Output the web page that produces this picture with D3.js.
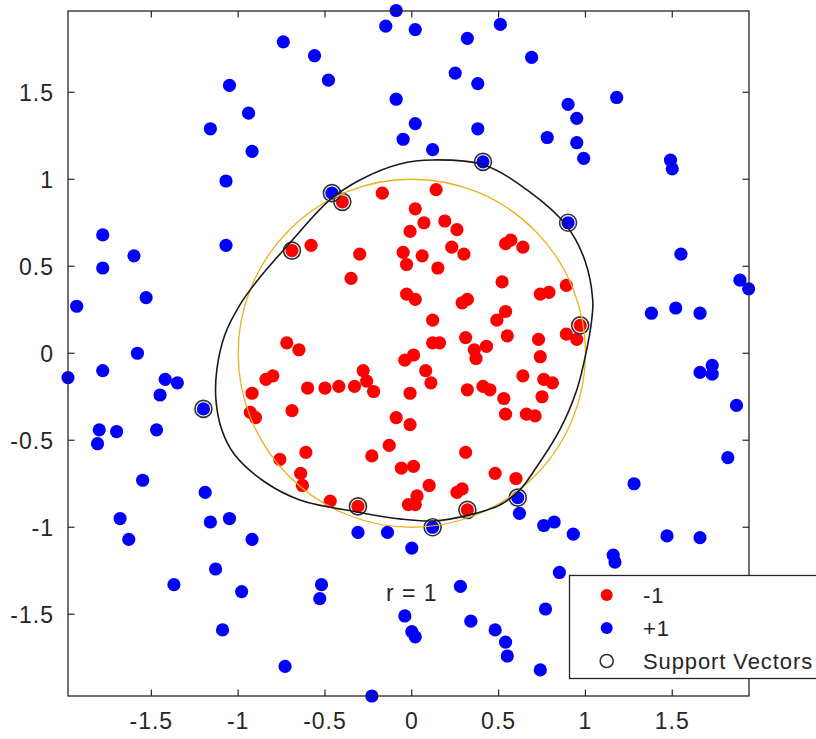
<!DOCTYPE html>
<html><head><meta charset="utf-8">
<script src="https://cdn.jsdelivr.net/npm/d3@7/dist/d3.min.js"></script>
<style>
html,body{margin:0;padding:0;background:#fff;}
svg{display:block;}
text{font-family:"Liberation Sans",Arial,Helvetica,sans-serif;fill:#262626;}
</style></head>
<body>
<script>
// ---- data ----
const negX = [-0.17,0.14,-0.40,0.02,0.07,0.19,0.26,-0.01,-0.58,-0.69,-0.30,-0.05,-0.03,0.06,0.15,0.23,0.30,0.54,0.57,0.64,-0.35,0.52,-0.03,0.02,0.29,0.32,0.54,0.49,0.12,0.55,0.31,0.12,0.16,0.43,0.36,0.37,-0.72,-0.65,-0.04,0.01,0.64,0.08,0.11,-0.28,-0.60,-0.50,-0.42,-0.33,-0.26,-0.22,-0.01,0.32,0.41,0.45,0.53,-0.69,0.54,0.66,-0.09,-0.01,-0.13,-0.61,-0.23,0.31,-0.06,0.01,-0.64,-0.63,-0.47,-0.31,0.10,0.03,-0.02,0.02,0.26,0.29,0.32,0.48,0.60,0.89,0.74,0.79,0.97,0.89,0.95,0.73,0.74,0.76,0.81,0.75,0.71,-0.80,-0.84,-0.92,-0.93,-0.90,-0.76];
const negY = [0.92,0.94,0.87,0.83,0.75,0.76,0.71,0.70,0.62,0.59,0.57,0.58,0.51,0.56,0.49,0.61,0.57,0.63,0.65,0.61,0.43,0.41,0.34,0.31,0.29,0.31,0.24,0.19,0.19,0.10,0.09,0.06,0.06,0.04,0.02,-0.03,0.06,0.02,-0.04,-0.01,-0.13,-0.10,-0.17,-0.10,-0.20,-0.20,-0.19,-0.19,-0.16,-0.22,-0.23,-0.21,-0.19,-0.21,-0.26,-0.33,-0.35,-0.35,-0.37,-0.41,-0.53,-0.57,-0.59,-0.57,-0.66,-0.65,-0.69,-0.76,-0.85,-0.88,-0.76,-0.82,-0.87,-0.87,-0.80,-0.78,-0.90,-0.69,-0.72,0.39,0.34,0.35,0.16,0.11,0.08,0.08,-0.02,-0.15,-0.17,-0.25,-0.36,-0.13,-0.15,-0.23,-0.34,-0.37,-0.61];
const posX = [-0.09,-0.15,0.02,0.51,0.32,-0.74,-0.56,0.69,-0.48,0.25,0.38,-1.05,-0.09,1.18,0.90,-0.94,0.95,0.02,-1.16,-0.05,0.38,0.78,0.95,0.12,-0.92,0.99,1.49,1.50,-1.07,0.41,-0.46,0.90,-1.78,-1.07,1.55,-1.60,-1.78,1.89,1.94,-1.53,-1.93,1.52,1.38,1.66,-1.58,-1.78,-1.98,-1.42,-1.35,-1.45,-1.20,1.66,1.73,1.73,1.87,-1.80,-1.70,-1.47,-1.81,1.82,-1.55,-1.19,1.28,-1.68,-1.16,-1.05,-1.63,-0.92,0.61,0.62,0.76,0.82,0.93,1.47,1.66,-0.31,-0.14,0.00,0.12,-1.13,-1.37,-0.98,1.16,1.17,0.85,-0.52,-0.53,0.28,0.77,-1.09,-0.04,0.00,0.02,0.34,0.48,0.54,0.55,-0.73,0.74,-0.23];
const posY = [1.97,1.88,1.86,1.89,1.81,1.79,1.71,1.70,1.57,1.61,1.55,1.54,1.46,1.47,1.43,1.38,1.35,1.32,1.29,1.23,1.29,1.24,1.21,1.17,1.16,1.12,1.11,1.06,0.99,1.10,0.92,0.75,0.68,0.62,0.57,0.56,0.49,0.42,0.37,0.32,0.27,0.26,0.23,0.23,0.00,-0.10,-0.14,-0.15,-0.17,-0.24,-0.32,-0.11,-0.07,-0.12,-0.30,-0.44,-0.45,-0.44,-0.52,-0.60,-0.73,-0.80,-0.75,-0.95,-0.97,-0.95,-1.07,-1.07,-0.83,-0.92,-0.99,-0.97,-1.04,-1.05,-1.06,-1.03,-1.03,-1.12,-1.00,-1.24,-1.33,-1.37,-1.16,-1.20,-1.26,-1.33,-1.41,-1.34,-1.47,-1.59,-1.51,-1.60,-1.63,-1.54,-1.59,-1.66,-1.74,-1.80,-1.82,-1.97];
// support vectors
const svX = [-0.40,-0.69,0.97,-0.31,0.32,0.41,-0.46,0.90,-1.20,0.12,0.61];
const svY = [0.87,0.59,0.16,-0.88,-0.90,1.10,0.92,0.75,-0.32,-1.00,-0.83];
// decision boundary (SVM contour)
const bndX = [0.121,0.415,0.679,0.887,0.996,1.042,1.036,1.007,0.950,0.852,0.708,0.622,0.507,0.334,0.121,-0.069,-0.317,-0.645,-0.846,-1.019,-1.094,-1.128,-1.123,-1.077,-0.990,-0.887,-0.702,-0.472,-0.299,-0.069];
const bndY = [1.111,1.082,0.927,0.738,0.536,0.306,0.191,0.019,-0.211,-0.441,-0.670,-0.785,-0.872,-0.929,-0.964,-0.952,-0.912,-0.843,-0.740,-0.585,-0.441,-0.268,-0.096,0.105,0.278,0.421,0.634,0.881,0.996,1.088];
const trueRadius = 1;
const xTicks = [-1.5,-1,-0.5,0,0.5,1,1.5];
const yTicks = [-1.5,-1,-0.5,0,0.5,1,1.5];
const legendLabels = ["-1","+1","Support Vectors"];
const annotation = "r = 1";

// ---- layout ----
const W = 816, H = 739;
const L = 68, R = 749, T = 11, B = 696;
const x = d3.scaleLinear().domain([-1.980,1.942]).range([L,R]);
const y = d3.scaleLinear().domain([-1.970,1.967]).range([B,T]);
const axisColor = "#262626";

const svg = d3.select("body").append("svg").attr("width",W).attr("height",H);
const plot = svg.append("g");

// points
const rPt = 6.6;
plot.append("g").selectAll("circle").data(negX.map((v,i)=>[v,negY[i]])).join("circle")
  .attr("cx",d=>x(d[0])).attr("cy",d=>y(d[1])).attr("r",rPt).attr("fill","#ff0000");
plot.append("g").selectAll("circle").data(posX.map((v,i)=>[v,posY[i]])).join("circle")
  .attr("cx",d=>x(d[0])).attr("cy",d=>y(d[1])).attr("r",rPt).attr("fill","#0000ff");
// support vectors
plot.append("g").selectAll("circle").data(svX.map((v,i)=>[v,svY[i]])).join("circle")
  .attr("cx",d=>x(d[0])).attr("cy",d=>y(d[1])).attr("r",8.5).attr("fill","none")
  .attr("stroke","#333").attr("stroke-width",1.6);

// true circle
plot.append("ellipse").attr("cx",x(0)).attr("cy",y(0))
  .attr("rx",x(trueRadius)-x(0)).attr("ry",y(0)-y(trueRadius))
  .attr("fill","none").attr("stroke","#EDB120").attr("stroke-width",1.3);
// boundary
const line = d3.line().x(d=>x(d[0])).y(d=>y(d[1])).curve(d3.curveCatmullRomClosed);
plot.append("path").attr("d",line(bndX.map((v,i)=>[v,bndY[i]])))
  .attr("fill","none").attr("stroke","#1a1a1a").attr("stroke-width",1.6);

// axes box
const fs = 23, ls = "1px";
svg.append("rect").attr("x",L).attr("y",T).attr("width",R-L).attr("height",B-T)
  .attr("fill","none").attr("stroke",axisColor).attr("stroke-width",1.3);
const tl = 6.5;
const tg = svg.append("g").attr("stroke",axisColor).attr("stroke-width",1.2);
xTicks.forEach(v=>{
  tg.append("line").attr("x1",x(v)).attr("x2",x(v)).attr("y1",B).attr("y2",B-tl);
  tg.append("line").attr("x1",x(v)).attr("x2",x(v)).attr("y1",T).attr("y2",T+tl);
});
yTicks.forEach(v=>{
  tg.append("line").attr("y1",y(v)).attr("y2",y(v)).attr("x1",L).attr("x2",L+tl);
  tg.append("line").attr("y1",y(v)).attr("y2",y(v)).attr("x1",R).attr("x2",R-tl);
});
svg.append("g").selectAll("text").data(xTicks).join("text")
  .attr("x",d=>x(d)).attr("y",B+33).attr("text-anchor","middle")
  .attr("font-size",fs).attr("letter-spacing",ls).text(d=>String(d));
svg.append("g").selectAll("text").data(yTicks).join("text")
  .attr("x",L-14).attr("y",d=>y(d)).attr("dy","0.36em").attr("text-anchor","end")
  .attr("font-size",fs).attr("letter-spacing",ls).text(d=>String(d));

// annotation
svg.append("text").attr("x",x(0)).attr("y",y(-1.375)).attr("dy","0.36em")
  .attr("text-anchor","middle").attr("font-size",fs).attr("letter-spacing",ls).text(annotation);

// legend
const lg = svg.append("g");
lg.append("rect").attr("x",569.5).attr("y",575.5).attr("width",270).attr("height",103)
  .attr("fill","#fff").attr("stroke",axisColor).attr("stroke-width",1.3);
const ly = [595,628,661];
lg.append("circle").attr("cx",606.7).attr("cy",ly[0]).attr("r",6).attr("fill","#ff0000");
lg.append("circle").attr("cx",606.7).attr("cy",ly[1]).attr("r",6).attr("fill","#0000ff");
lg.append("circle").attr("cx",606.7).attr("cy",ly[2]).attr("r",6.5).attr("fill","none").attr("stroke","#333").attr("stroke-width",1.6);
legendLabels.forEach((t,i)=>{
  lg.append("text").attr("x",643).attr("y",ly[i]).attr("dy","0.36em").attr("font-size",22)
    .attr("letter-spacing","0.9px").text(t);
});
</script>
</body></html>
